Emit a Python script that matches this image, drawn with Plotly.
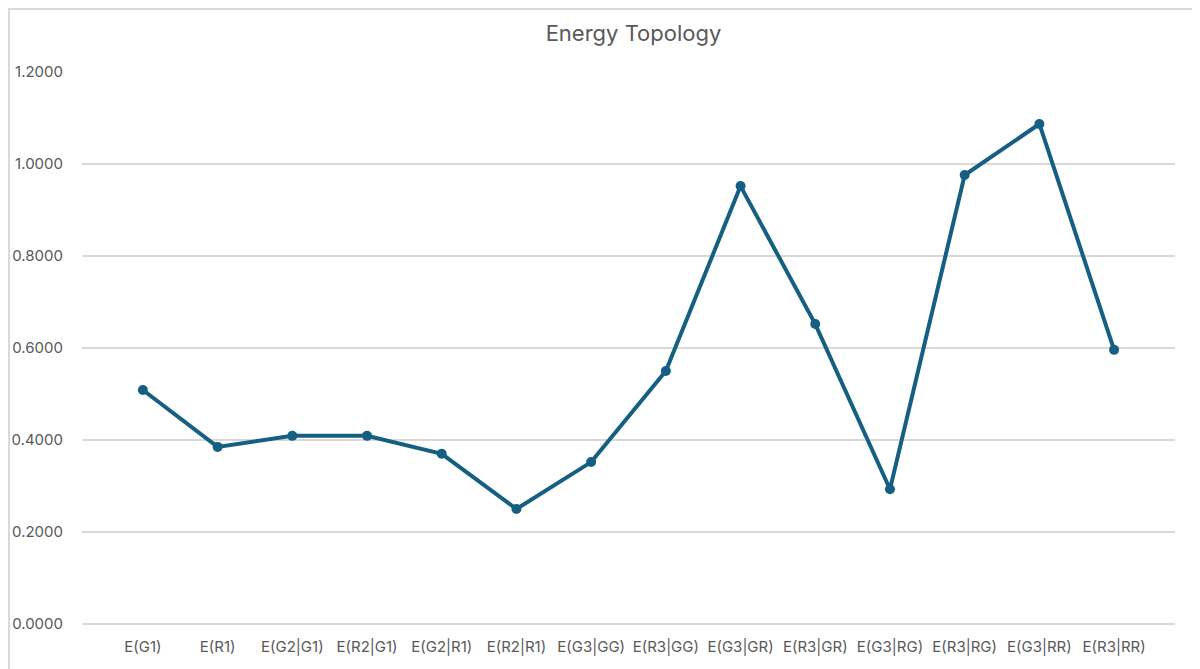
"""Energy Topology line chart."""
import plotly.graph_objects as go

categorias = [
    'E(G1)', 'E(R1)', 'E(G2|G1)', 'E(R2|G1)', 'E(G2|R1)', 'E(R2|R1)',
    'E(G3|GG)', 'E(R3|GG)', 'E(G3|GR)', 'E(R3|GR)', 'E(G3|RG)',
    'E(R3|RG)', 'E(G3|RR)', 'E(R3|RR)'
]
energia = [
    0.5087, 0.3850, 0.4090, 0.4090, 0.3700, 0.2500,
    0.3520, 0.5500, 0.9520, 0.6520, 0.2930,
    0.9760, 1.0870, 0.5960
]

COR_LINHA = '#156082'
COR_TEXTO = '#595959'
COR_GRADE = '#d9d9d9'

# a página tem margem de 8px no body, por isso a área do gráfico é deslocada
L, R, T, B = 74, 33, 64, 53
W, H = 1200, 669
pw, ph = W - L - R, H - T - B

fig = go.Figure()
fig.add_trace(go.Scatter(
    x=categorias,
    y=energia,
    mode='lines+markers',
    line=dict(color=COR_LINHA, width=4),
    marker=dict(color=COR_LINHA, size=10),
    showlegend=False
))

fig.update_layout(
    width=W,
    height=H,
    title=dict(
        text='Energy Topology',
        x=(L + pw / 2 + 5) / W, xanchor='center',
        y=1 - 25 / H, yanchor='middle',
        font=dict(size=22, color=COR_TEXTO, family='Inter, Roboto, sans-serif')
    ),
    font=dict(family='Inter, Roboto, sans-serif', size=15, color=COR_TEXTO),
    plot_bgcolor='white',
    paper_bgcolor='white',
    margin=dict(l=L, r=R, t=T, b=B),
    xaxis=dict(
        type='category',
        automargin=False,
        showgrid=False,
        showline=False,
        ticks='',
        ticklabelstandoff=12,
        tickfont=dict(size=15, color=COR_TEXTO)
    ),
    yaxis=dict(
        range=[0, 1.2],
        dtick=0.2,
        tickformat='.4f',
        automargin=False,
        showgrid=True,
        gridcolor=COR_GRADE,
        gridwidth=1.5,
        zeroline=True,
        zerolinecolor=COR_GRADE,
        zerolinewidth=1.5,
        showline=False,
        ticks='',
        ticklabelstandoff=18,
        tickfont=dict(size=15, color=COR_TEXTO)
    ),
    shapes=[dict(
        type='rect', xref='paper', yref='paper',
        x0=-(L - 1) / pw, x1=1 + (R - 1) / pw, y0=-(B - 1) / ph, y1=1 + (T - 1) / ph,
        line=dict(color='#d9d9d9', width=2)
    )]
)

fig.write_html('out.html')
